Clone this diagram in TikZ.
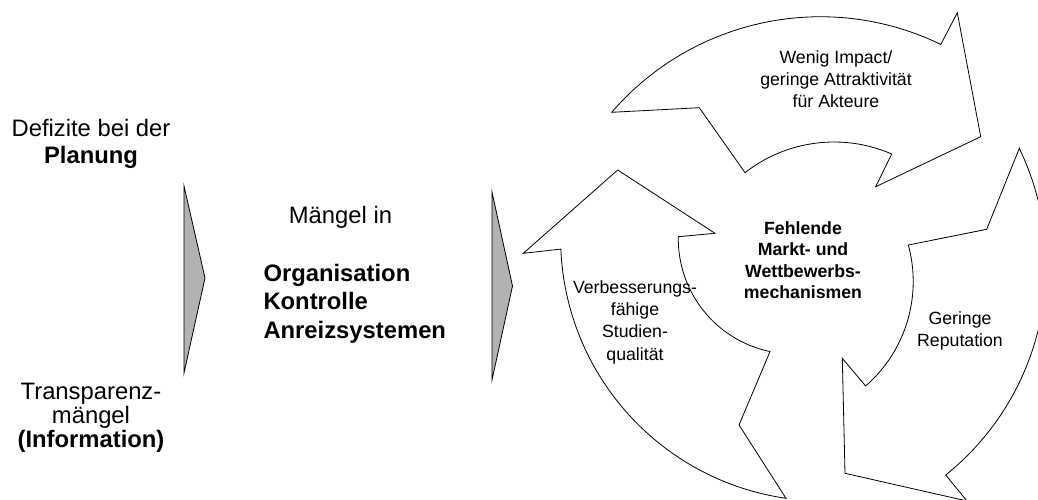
\documentclass[tikz,border=0pt]{standalone}
\usepackage{fontspec}
\setmainfont{Liberation Sans}
\usepackage{xcolor}
\usetikzlibrary{positioning}

\definecolor{keilgrau}{RGB}{178,178,178}

\begin{document}
\begin{tikzpicture}[x=1pt, y=-1pt, line join=miter,
		gross/.style={inner sep=0pt, align=center, font=\fontsize{23.8}{26.6}\selectfont},
		klein/.style={inner sep=0pt, align=center, font=\fontsize{17.7}{22}\selectfont},
		keil/.style={draw, line width=0.8pt, fill=keilgrau},
		bogen/.style={draw, line width=0.8pt, fill=white}]
	\useasboundingbox (0,0) rectangle (1038,500);

	% graue Keile
	\draw[keil] (184,186) -- (205,278) -- (184,373) -- cycle;
	\draw[keil] (492,192) -- (512.5,286) -- (492,380) -- cycle;

	% Kreislauf aus drei Pfeilen
	\draw[bogen] (611.7,112.3) arc[start angle=-139.2, end angle=-64.1, radius=275.7]
		-- (957.3,12.7) -- (980.7,136.7) -- (875.7,186.7) -- (891.7,154)
		arc[start angle=-66.5, end angle=-128.0, radius=144.6]
		-- (699.3,107.7) -- cycle;
	\draw[bogen] (1019.3,148.3) -- (986.7,229.3) -- (908.3,245)
		arc[start angle=-15.3, end angle=49.0, radius=138.4]
		-- (842.3,358.3) -- (845,473.3) -- (967,501) -- (945.7,475)
		arc[start angle=51.2, end angle=-25.8, radius=268.9] -- cycle;
	\draw[bogen] (617.7,170) -- (715,233.3) -- (678.3,236.7)
		arc[start angle=181.0, end angle=101.8, radius=115.3]
		-- (739,425) -- (786,498.3)
		arc[start angle=98.2, end angle=177.6, radius=262.9]
		-- (523.3,253.3) -- cycle;

	% Texte links (base = letzte Zeile)
	\node[gross, anchor=base] (planung) at (91,163.3) {Defizite bei der\\\textbf{Planung}};
	\node[gross, anchor=base, font=\fontsize{23.8}{23.8}\selectfont] (transparenz) at (91,447.5) {Transparenz-\\mängel\\\textbf{(Information)}};
	\node[gross, anchor=base] (maengel) at (340.5,223.3) {Mängel in};
	\node[gross, anchor=base west, align=left, font=\fontsize{23.8}{28.2}\selectfont\bfseries] (bereiche) at (263.3,338.1) {Organisation\\Kontrolle\\Anreizsystemen};

	% Texte im Kreislauf
	\node[klein, anchor=base] (impact) at (836,107.3) {Wenig Impact/\\geringe Attraktivität\\für Akteure};
	\node[klein, anchor=base] (reputation) at (960,346.7) {Geringe\\Reputation};
	\node[klein, anchor=base, font=\fontsize{17.7}{22.3}\selectfont] (qualitaet) at (635,360.2) {Verbesserungs-\\fähige\\Studien-\\qualität};
	\node[klein, anchor=base, font=\fontsize{17.7}{21.5}\selectfont\bfseries] (mechanismen) at (803,298.5) {Fehlende\\Markt- und\\Wettbewerbs-\\mechanismen};
\end{tikzpicture}
\end{document}
